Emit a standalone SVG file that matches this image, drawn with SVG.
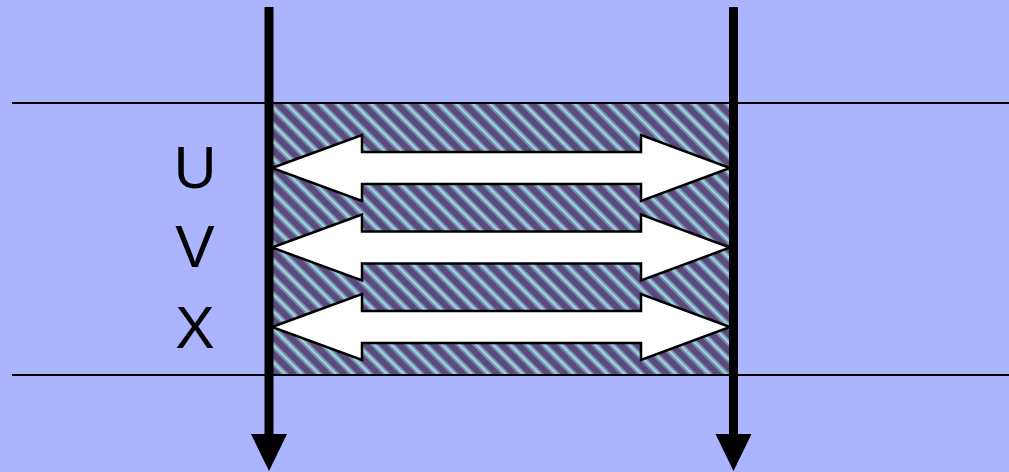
<svg xmlns="http://www.w3.org/2000/svg" width="1009" height="472" viewBox="0 0 1009 472">
  <defs>
    <pattern id="hatch" patternUnits="userSpaceOnUse" width="12" height="12" patternTransform="rotate(45)">
      <rect width="12" height="12" fill="#5b4a7e"/>
      <rect y="0" width="12" height="1.5" fill="#7b8cae"/>
      <rect y="1.5" width="12" height="3" fill="#9ad6dc"/>
      <rect y="4.5" width="12" height="1.5" fill="#7b8cae"/>
    </pattern>
  </defs>
  <style>
    .rule { stroke: #000; stroke-width: 2; fill: none; }
    .dbl { fill: #fff; stroke: #000; stroke-width: 2.5; stroke-linejoin: miter; }
    .axis { stroke: #000; stroke-width: 9; fill: none; }
    .head { fill: #000; }
    .lbl { font-family: "Liberation Sans", Arial, sans-serif; font-size: 59px; fill: #000; text-anchor: middle; }
  </style>
  <rect width="1009" height="472" fill="#aab4ff"/>
  <g id="band">
    <rect x="270" y="103" width="462" height="272" fill="url(#hatch)"/>
    <line class="rule" x1="12" y1="103" x2="1009" y2="103"/>
    <line class="rule" x1="12" y1="375" x2="1009" y2="375"/>
  </g>
  <g id="arrow-u">
    <polygon class="dbl" points="272,168 362,135 362,152 641,152 641,135 730,168 641,201 641,184 362,184 362,201"/>
  </g>
  <g id="arrow-v">
    <polygon class="dbl" points="272,247.5 362,214.5 362,231.5 641,231.5 641,214.5 730,247.5 641,280.5 641,263.5 362,263.5 362,280.5"/>
  </g>
  <g id="arrow-x">
    <polygon class="dbl" points="272,327 362,294 362,311 641,311 641,294 730,327 641,360 641,343 362,343 362,360"/>
  </g>
  <g id="labels">
    <text class="lbl" x="195" y="188">U</text>
    <text class="lbl" x="195" y="267">V</text>
    <text class="lbl" x="195" y="348">X</text>
  </g>
  <g id="connectors">
    <line class="axis" x1="269" y1="7" x2="269" y2="436"/>
    <polygon class="head" points="251,434 287,434 269,471"/>
    <line class="axis" x1="733.5" y1="7" x2="733.5" y2="436"/>
    <polygon class="head" points="715.5,434 751.5,434 733.5,471"/>
  </g>
</svg>
